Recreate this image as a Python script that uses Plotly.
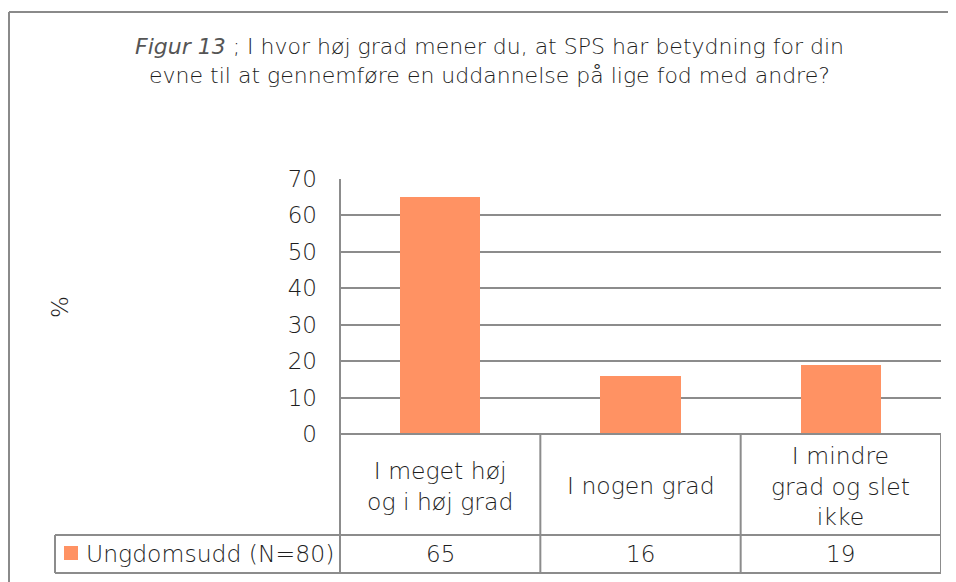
import plotly.graph_objects as go

categories = ["I meget høj<br>og i høj grad", "I nogen grad", "I mindre<br>grad og slet<br>ikke"]
values = [65, 16, 19]
series_name = "Ungdomsudd (N=80)"
y_ticks = [0, 10, 20, 30, 40, 50, 60, 70]
title_text = ("<i><span style='color:#555555'>Figur 13</span></i> ; I hvor høj grad mener du, at SPS har betydning for din"
              "<br>evne til at gennemføre en uddannelse på lige fod med andre?")

W, H = 956, 582
OFF = 8  # browser body margin
BAR = "#FF9263"
LINE = "#8C8C8C"
TXT = "#1E1E1E"
FONT = "DejaVu Sans"
WT = 300

def px(x):
    return (x - OFF) / W

def py(y):
    return (H - (y - OFF)) / H

x_idx = list(range(len(categories)))

fig = go.Figure()
fig.add_trace(go.Bar(x=x_idx, y=values, width=0.4, marker=dict(color=BAR, line=dict(width=0)),
                     name=series_name, showlegend=False, hoverinfo="skip"))

shapes = []
shapes.append(dict(type="line", xref="paper", yref="paper", x0=px(9), x1=px(9), y0=-0.05, y1=py(12),
                   line=dict(color="#8A8A8A", width=2), layer="below"))
shapes.append(dict(type="line", xref="paper", yref="paper", x0=px(9), x1=1.05, y0=py(12), y1=py(12),
                   line=dict(color="#8A8A8A", width=2), layer="below"))
for y in [535, 573]:
    shapes.append(dict(type="line", xref="paper", yref="paper", x0=px(55), x1=px(941), y0=py(y), y1=py(y),
                       line=dict(color=LINE, width=2)))
shapes.append(dict(type="line", xref="paper", yref="paper", x0=px(340), x1=px(941), y0=py(434), y1=py(434),
                   line=dict(color=LINE, width=2)))
shapes.append(dict(type="line", xref="paper", yref="paper", x0=px(55), x1=px(55), y0=py(535), y1=py(573),
                   line=dict(color=LINE, width=2)))
shapes.append(dict(type="line", xref="paper", yref="paper", x0=px(340), x1=px(340), y0=py(179), y1=py(573),
                   line=dict(color=LINE, width=2)))
for b in [0.5, 1.5, 2.5]:
    shapes.append(dict(type="line", xref="x", yref="paper", x0=b, x1=b, y0=py(434), y1=py(573),
                       line=dict(color=LINE, width=2)))
shapes.append(dict(type="rect", xref="paper", yref="paper", x0=px(64), x1=px(78), y0=py(560), y1=py(546),
                   fillcolor=BAR, line=dict(width=0)))

def f(size):
    return dict(family=FONT, size=size, color=TXT, weight=WT)

annotations = []
for i, c in enumerate(categories):
    annotations.append(dict(x=i, xref="x", y=py(486), yref="paper", text=c, showarrow=False,
                            font=f(23.5), align="center", xanchor="center", yanchor="middle"))
    annotations.append(dict(x=i, xref="x", y=py(554), yref="paper", text=str(values[i]), showarrow=False,
                            font=f(23), xanchor="center", yanchor="middle"))
annotations.append(dict(x=px(84), xref="paper", y=py(554), yref="paper", text=series_name, showarrow=False,
                        font=f(23.5), xanchor="left", yanchor="middle"))
annotations.append(dict(x=px(60), xref="paper", y=py(307), yref="paper", text="%", showarrow=False, textangle=-90,
                        font=f(23), xanchor="center", yanchor="middle"))
annotations.append(dict(x=px(490), xref="paper", y=py(61), yref="paper", text=title_text, showarrow=False,
                        font=f(22), xanchor="center", yanchor="middle", align="center"))

fig.update_layout(
    width=W, height=H,
    margin=dict(l=0, r=0, t=0, b=0, autoexpand=False),
    paper_bgcolor="white", plot_bgcolor="white",
    bargap=0,
    xaxis=dict(domain=[px(340), px(941)], range=[-0.5, 2.5], showticklabels=False, showgrid=False,
               zeroline=False, showline=False, fixedrange=True, automargin=False),
    yaxis=dict(domain=[py(434), py(179)], range=[0, 70], tickvals=y_ticks,
               ticktext=[str(t) for t in y_ticks], showgrid=True, gridcolor=LINE, gridwidth=2,
               zeroline=False, showline=False, ticks="", ticklabelstandoff=22, automargin=False,
               tickfont=f(23), fixedrange=True),
    shapes=shapes,
    annotations=annotations,
    showlegend=False,
)

fig.write_html("out.html", config={"displayModeBar": False})
